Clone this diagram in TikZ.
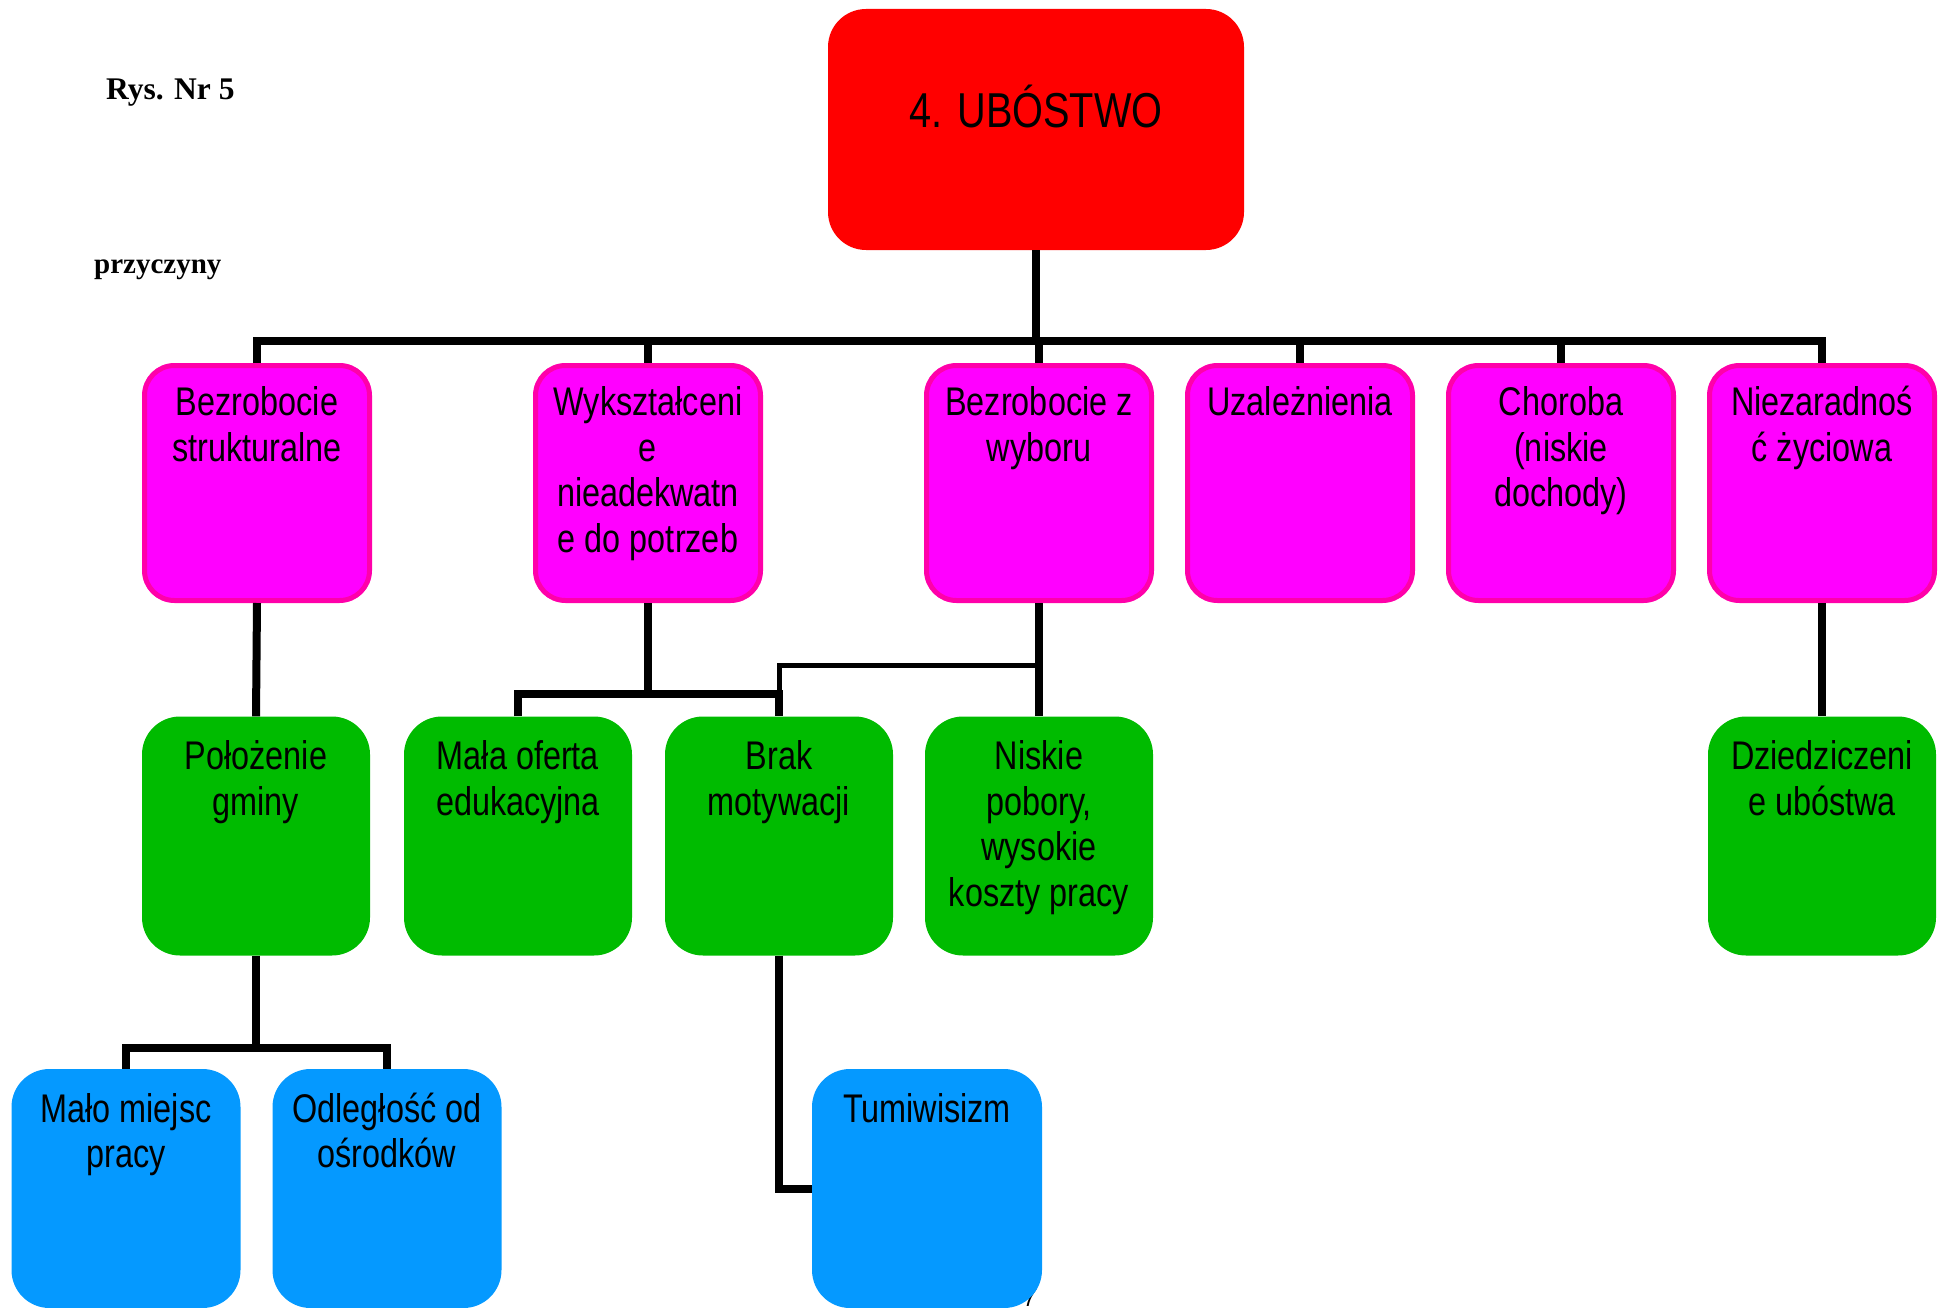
\documentclass[tikz,border=0pt]{standalone}
\usepackage{fontspec}
\setmainfont{Liberation Sans}[FakeStretch=0.81]
\newfontfamily\timesfont{Liberation Serif}
\definecolor{magfill}{RGB}{255,0,255}
\definecolor{magline}{RGB}{255,0,170}
\definecolor{grnfill}{RGB}{0,187,0}
\definecolor{blufill}{RGB}{5,153,255}
\definecolor{redfill}{RGB}{255,0,0}
\newcommand\mybox[4]{\parbox[c][#2][t]{#1}{\centering\fontsize{40}{45.5}\selectfont\rule{0pt}{#3}#4}}
\tikzset{
  boxbase/.style={rectangle, inner sep=0pt, align=center},
  magbox/.style={boxbase, fill=magfill, draw=magline, line width=5pt, rounded corners=30pt},
  grnbox/.style={boxbase, fill=grnfill, rounded corners=38pt},
  blubox/.style={boxbase, fill=blufill, rounded corners=38pt},
  redbox/.style={boxbase, fill=redfill, rounded corners=38pt},
  conn/.style={line width=8pt, draw=black},
  thinconn/.style={line width=5pt, draw=black},
}
\begin{document}
\begin{tikzpicture}[x=1pt, y=-1pt]
\useasboundingbox (0,0) rectangle (1938,1308);
% titles
\node[anchor=base west, inner sep=0pt, font=\timesfont\bfseries\fontsize{31.5}{36}\selectfont] (rys) at (106,100) {Rys. Nr 5};
\node[anchor=base west, inner sep=0pt, font=\timesfont\bfseries\fontsize{29}{34}\selectfont] (prz) at (94,273) {przyczyny};
% page number fragment (behind box)
\node[anchor=base west, inner sep=0pt, font=\itshape\fontsize{27}{30}\selectfont] (pg) at (1024,1306) {7};
% top
\node[redbox] (red) at (1036,129.5) {\parbox[c][241pt][t]{416pt}{\centering\fontsize{49}{55}\selectfont\rule{0pt}{119pt}4. UBÓSTWO}};
% magenta row
\node[magbox] (m1) at (257,483) {\mybox{225pt}{235pt}{50pt}{Bezrobocie\\strukturalne}};
\node[magbox] (m2) at (648,483) {\mybox{225pt}{235pt}{50pt}{Wykształceni\\e\\nieadekwatn\\e do potrzeb}};
\node[magbox] (m3) at (1039,483) {\mybox{225pt}{235pt}{50pt}{Bezrobocie z\\wyboru}};
\node[magbox] (m4) at (1300,483) {\mybox{225pt}{235pt}{50pt}{Uzależnienia}};
\node[magbox] (m5) at (1561,483) {\mybox{225pt}{235pt}{50pt}{Choroba\\(niskie\\dochody)}};
\node[magbox] (m6) at (1822,483) {\mybox{225pt}{235pt}{50pt}{Niezaradnoś\\ć życiowa}};
% green row
\node[grnbox] (g1) at (256,836) {\mybox{228pt}{239pt}{53pt}{Położenie\\gminy}};
\node[grnbox] (g2) at (518,836) {\mybox{228pt}{239pt}{53pt}{Mała oferta\\edukacyjna}};
\node[grnbox] (g3) at (779,836) {\mybox{228pt}{239pt}{53pt}{Brak\\motywacji}};
\node[grnbox] (g4) at (1039,836) {\mybox{228pt}{239pt}{53pt}{Niskie\\pobory,\\wysokie\\koszty pracy}};
\node[grnbox] (g5) at (1822,836) {\mybox{228pt}{239pt}{53pt}{Dziedziczeni\\e ubóstwa}};
% blue row
\node[blubox] (b1) at (126,1188.5) {\mybox{229pt}{239pt}{53pt}{Mało miejsc\\pracy}};
\node[blubox] (b2) at (387,1188.5) {\mybox{229pt}{239pt}{53pt}{Odległość od\\ośrodków}};
\node[blubox] (b3) at (927,1188.5) {\mybox{230pt}{239pt}{53pt}{Tumiwisizm}};
% bus coordinates
\coordinate (busA) at (0,341);
\coordinate (busB) at (0,694);
\coordinate (busC) at (1039,665);
\coordinate (busD) at (0,1048);
% connectors
\draw[conn] (red.south) -- (red.south |- busA);
\draw[conn] (m1.north) -- (m1.north |- busA) -- (m6.north |- busA) -- (m6.north);
\foreach \n in {m2,m3,m4,m5} { \draw[conn] (\n.north |- busA) -- (\n.north); }
\draw[conn] (m1.south) -- (g1.north);
\draw[conn] (m2.south) -- (m2.south |- busB);
\draw[conn] (g2.north) -- (g2.north |- busB) -- (g3.north |- busB) -- (g3.north);
\draw[conn] (m3.south) -- (g4.north);
\draw[thinconn] (busC) -- (busC -| g3.north) -- (g3.north |- busB);
\draw[conn] (g3.south) |- (b3.west);
\draw[conn] (g1.south) -- (g1.south |- busD);
\draw[conn] (b1.north) -- (b1.north |- busD) -- (b2.north |- busD) -- (b2.north);
\draw[conn] (m6.south) -- (g5.north);
\end{tikzpicture}
\end{document}
